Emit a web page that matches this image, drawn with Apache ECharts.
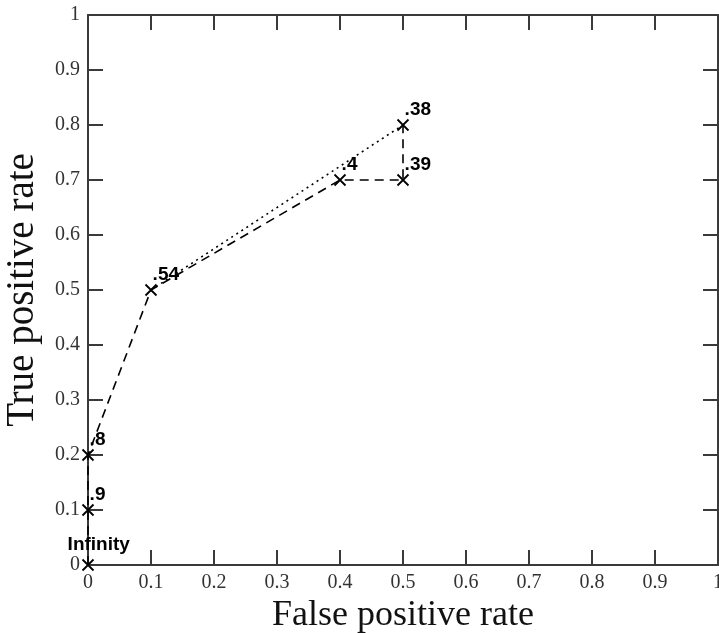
<!DOCTYPE html>
<html>
<head>
<meta charset="utf-8">
<script src="https://cdn.jsdelivr.net/npm/echarts@6/dist/echarts.min.js"></script>
<style>html,body{margin:0;padding:0;background:#fff;}#c{width:719px;height:633px;}</style>
</head>
<body>
<div id="c"></div>
<script>
// ROC points (in order along the dashed curve)
var fpr = [0, 0, 0, 0.1, 0.4, 0.5, 0.5];
var tpr = [0, 0.1, 0.2, 0.5, 0.7, 0.7, 0.8];
var thresholds = ['Infinity', '.9', '.8', '.54', '.4', '.39', '.38'];
// dotted hull segment
var hullFpr = [0.1, 0.5];
var hullTpr = [0.5, 0.8];
var xTitle = 'False positive rate';
var yTitle = 'True positive rate';

var serif = 'Liberation Serif';
var axisColor = '#3a3a3a';

var pts = fpr.map(function (x, i) {
  var isInf = thresholds[i] === 'Infinity';
  return {
    value: [x, tpr[i]],
    label: {
      show: true,
      formatter: thresholds[i],
      position: isInf ? [-14, -14] : [8, -9],
      align: 'left',
      verticalAlign: 'middle'
    }
  };
});
var hull = hullFpr.map(function (x, i) { return [x, hullTpr[i]]; });

function axisBase(pos, showLabel) {
  return {
    type: 'value', min: 0, max: 1, interval: 0.1, position: pos,
    axisLine: { show: true, onZero: false, lineStyle: { color: axisColor, width: 2 } },
    axisTick: { show: true, inside: true, length: 15, lineStyle: { color: axisColor, width: 2 } },
    axisLabel: { show: showLabel, fontFamily: serif, fontSize: 20, color: '#333', margin: 8, showMaxLabel: true, showMinLabel: true },
    splitLine: { show: false }
  };
}

var xBottom = axisBase('bottom', true);
xBottom.name = xTitle;
xBottom.nameLocation = 'middle';
xBottom.nameGap = 26;
xBottom.nameTextStyle = { fontFamily: serif, fontSize: 36, color: '#111' };
var xTop = axisBase('top', false);
var yLeft = axisBase('left', true);
yLeft.name = yTitle;
yLeft.nameLocation = 'middle';
yLeft.nameGap = 46;
yLeft.nameTextStyle = { fontFamily: serif, fontSize: 39, color: '#111' };
var yRight = axisBase('right', false);

var chart = echarts.init(document.getElementById('c'), null, { renderer: 'canvas' });
chart.setOption({
  animation: false,
  backgroundColor: '#fff',
  grid: { left: 88, top: 15, right: 1, bottom: 68, containLabel: false, outerBoundsMode: 'none' },
  xAxis: [xBottom, xTop],
  yAxis: [yLeft, yRight],
  series: [
    {
      type: 'line', xAxisIndex: 0, yAxisIndex: 0,
      data: hull,
      showSymbol: false, symbol: 'none',
      lineStyle: { color: '#000', width: 1.6, type: [2, 4] },
      silent: true, z: 2
    },
    {
      type: 'line', xAxisIndex: 0, yAxisIndex: 0,
      data: pts,
      symbol: 'path://M0,0L10,10M10,0L0,10',
      symbolSize: 11,
      showAllSymbol: true,
      itemStyle: { color: 'rgba(0,0,0,0)', borderColor: '#000', borderWidth: 1.8 },
      lineStyle: { color: '#000', width: 1.6, type: [9, 6] },
      label: { fontFamily: 'Liberation Sans', fontWeight: 'bold', fontSize: 19, color: '#000' },
      labelLayout: { hideOverlap: false },
      silent: true, z: 3
    }
  ]
});
</script>
</body>
</html>
